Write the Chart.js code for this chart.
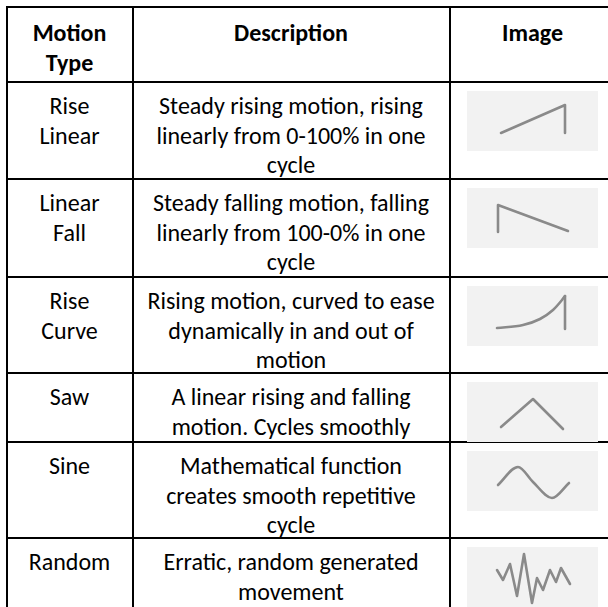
<!DOCTYPE html>
<html>
<head>
<meta charset="utf-8">
<script src="https://cdn.jsdelivr.net/npm/chart.js@4.4.1/dist/chart.umd.min.js"></script>
<style>
  html, body { margin: 0; padding: 0; background: #fff; overflow: hidden; }
  body { width: 608px; height: 607px; position: relative; font-family: Carlito, Lato, sans-serif; color: #000; }
  .ln { position: absolute; background: #000; }
  .txt { position: absolute; text-align: center; white-space: pre-line; font-size: 24px; line-height: 29.5px; }
  .hd { font-weight: bold; }
  canvas.img { position: absolute; background: #f2f2f2; }
</style>
</head>
<body>
<script>
// table text
var headers = ['Motion\nType', 'Description', 'Image'];
var motionTypes = ['Rise\nLinear', 'Linear\nFall', 'Rise\nCurve', 'Saw', 'Sine', 'Random'];
var descriptions = [
  'Steady rising motion, rising\nlinearly from 0-100% in one\ncycle',
  'Steady falling motion, falling\nlinearly from 100-0% in one\ncycle',
  'Rising motion, curved to ease\ndynamically in and out of\nmotion',
  'A linear rising and falling\nmotion. Cycles smoothly',
  'Mathematical function\ncreates smooth repetitive\ncycle',
  'Erratic, random generated\nmovement'
];

// motion shapes (x: 0-131 across the thumbnail, y: 0-60 from its bottom)
var riseLinearX = [34, 98, 98];
var riseLinearY = [18, 46, 18];
var linearFallX = [31, 31, 101];
var linearFallY = [16, 43, 17];
var riseCurveX = [30, 56, 73, 86, 95, 98, 98];
var riseCurveY = [18, 21, 27, 36, 46, 50, 17];
var sawX = [34, 66, 96];
var sawY = [15, 43, 13];
var sineX = [31, 51, 66, 85, 102];
var sineY = [26, 44, 29, 13, 28];
var randomX = [30, 36, 43, 50, 57, 65, 70, 76, 83, 89, 94, 103];
var randomY = [37, 27, 43, 11, 53, 4, 29, 17, 37, 25, 39, 23];

var shapes = [
  { x: riseLinearX, y: riseLinearY, smoothTo: 0 },
  { x: linearFallX, y: linearFallY, smoothTo: 0 },
  { x: riseCurveX, y: riseCurveY, smoothTo: 5 },
  { x: sawX, y: sawY, smoothTo: 0 },
  { x: sineX, y: sineY, smoothTo: 4 },
  { x: randomX, y: randomY, smoothTo: 0 }
];

// grid line centres
var colLines = [6.5, 132.5, 449.5, 615.5];
var rowLines = [7, 82, 179, 277, 373, 442, 538, 609];

function addLine(x, y, w, h) {
  var d = document.createElement('div');
  d.className = 'ln';
  d.style.left = x + 'px'; d.style.top = y + 'px';
  d.style.width = w + 'px'; d.style.height = h + 'px';
  document.body.appendChild(d);
}
function addText(str, col, row, bold) {
  var d = document.createElement('div');
  d.className = 'txt' + (bold ? ' hd' : '');
  d.textContent = str;
  d.style.left = (colLines[col] + 1) + 'px';
  d.style.width = (colLines[col + 1] - colLines[col] - 2) + 'px';
  d.style.top = (rowLines[row] + (bold ? 11 : 9)) + 'px';
  document.body.appendChild(d);
}

colLines.forEach(function(c) { addLine(c - 1, rowLines[0] - 1, 2, rowLines[rowLines.length - 1] - rowLines[0] + 2); });
rowLines.forEach(function(r) { addLine(colLines[0] - 1, r - 1, colLines[colLines.length - 1] - colLines[0] + 2, 2); });

headers.forEach(function(h, i) { addText(h, i, 0, true); });
motionTypes.forEach(function(t, i) { addText(t, 0, i + 1, false); });
descriptions.forEach(function(t, i) { addText(t, 1, i + 1, false); });

shapes.forEach(function(s, i) {
  var cv = document.createElement('canvas');
  cv.className = 'img';
  cv.width = 131; cv.height = 60;
  cv.style.left = '467px';
  cv.style.top = (rowLines[i + 1] + 8.5) + 'px';
  document.body.appendChild(cv);

  var pts = s.x.map(function(x, k) { return { x: x, y: s.y[k] }; });
  var sets = [];
  var style = { borderColor: '#8a8a8a', borderWidth: 2.6, pointRadius: 0, borderJoinStyle: 'round', borderCapStyle: 'round', fill: false };
  if (s.smoothTo > 0) {
    sets.push(Object.assign({ data: pts.slice(0, s.smoothTo + 1), cubicInterpolationMode: 'monotone' }, style));
    if (s.smoothTo < pts.length - 1) sets.push(Object.assign({ data: pts.slice(s.smoothTo), tension: 0 }, style));
  } else {
    sets.push(Object.assign({ data: pts, tension: 0 }, style));
  }

  new Chart(cv, {
    type: 'line',
    data: { datasets: sets },
    options: {
      responsive: false,
      animation: false,
      events: [],
      layout: { padding: 0 },
      plugins: { legend: { display: false }, tooltip: { enabled: false } },
      scales: {
        x: { type: 'linear', display: false, min: 0, max: 131 },
        y: { type: 'linear', display: false, min: 0, max: 60 }
      }
    }
  });
});
</script>
</body>
</html>
